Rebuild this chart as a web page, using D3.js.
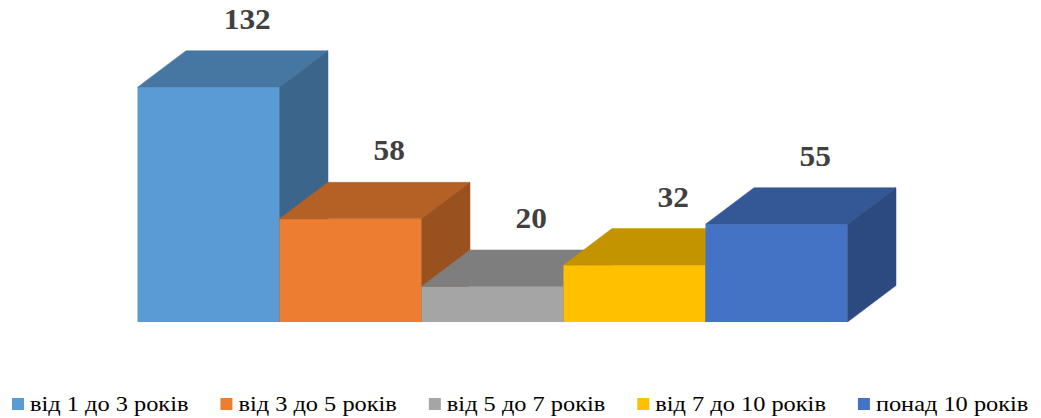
<!DOCTYPE html>
<html>
<head>
<meta charset="utf-8">
<script src="https://cdn.jsdelivr.net/npm/d3@7"></script>
<style>
  body { margin: 0; background: #fff; }
  svg { display: block; }
  .value-label { font-family: "Liberation Serif", "Times New Roman", serif; font-weight: bold; font-size: 29px; fill: #404040; }
  .legend-text { font-family: "Liberation Serif", "Times New Roman", serif; font-size: 21px; fill: #000; }
</style>
</head>
<body>
<svg width="1041" height="418"></svg>
<script>
// chart data
var categories = ['від 1 до 3 років', 'від 3 до 5 років', 'від 5 до 7 років', 'від 7 до 10 років', 'понад 10 років'];
var values = [132, 58, 20, 32, 55];

var colors = ['#5B9BD5', '#ED7D31', '#A5A5A5', '#FFC000', '#4472C4'];

var svg = d3.select('svg');

var baseY = 322;
var depth = {x: 48.5, y: -36.5};
var stretch = 1.16; // reference text is a little wider than Liberation Serif

var xScale = d3.scaleBand()
    .domain(categories)
    .range([137.5, 847.5])
    .padding(0);

var yScale = d3.scaleLinear()
    .domain([0, 140])
    .range([baseY, 73]);

function shade(c, k) {
    var r = d3.rgb(c);
    return d3.rgb(r.r * k, r.g * k, r.b * k).formatHex();
}

var bars = svg.append('g')
    .selectAll('g.bar')
    .data(categories)
    .enter()
    .append('g')
    .attr('class', 'bar');

// front face
bars.append('rect')
    .attr('x', function(d) { return xScale(d); })
    .attr('y', function(d, i) { return yScale(values[i]); })
    .attr('width', xScale.bandwidth())
    .attr('height', function(d, i) { return baseY - yScale(values[i]); })
    .attr('fill', function(d, i) { return colors[i]; });

// top face
bars.append('path')
    .attr('d', function(d, i) {
        var x0 = xScale(d), x1 = x0 + xScale.bandwidth(), y = yScale(values[i]);
        return 'M' + x0 + ',' + y + 'L' + (x0 + depth.x) + ',' + (y + depth.y) +
            'L' + (x1 + depth.x) + ',' + (y + depth.y) + 'L' + x1 + ',' + y + 'Z';
    })
    .attr('fill', function(d, i) { return shade(colors[i], 0.765); })
    .attr('stroke', function(d, i) { return shade(colors[i], 0.765); })
    .attr('stroke-width', 0.5);

// side face
bars.append('path')
    .attr('d', function(d, i) {
        var x1 = xScale(d) + xScale.bandwidth(), y = yScale(values[i]);
        return 'M' + x1 + ',' + y + 'L' + (x1 + depth.x) + ',' + (y + depth.y) +
            'L' + (x1 + depth.x) + ',' + (baseY + depth.y) + 'L' + x1 + ',' + baseY + 'Z';
    })
    .attr('fill', function(d, i) { return shade(colors[i], 0.65); })
    .attr('stroke', function(d, i) { return shade(colors[i], 0.65); })
    .attr('stroke-width', 0.5);

// value labels
var labels = svg.append('g')
    .selectAll('text')
    .data(categories)
    .enter()
    .append('text')
    .attr('class', 'value-label')
    .attr('text-anchor', 'middle')
    .attr('x', function(d) { return xScale(d) + xScale.bandwidth() / 2 + depth.x * 0.8; })
    .attr('y', function(d, i) { return yScale(values[i]) + depth.y - 22; })
    .text(function(d, i) { return values[i]; });

labels.each(function() {
    d3.select(this)
        .attr('textLength', this.getComputedTextLength() * 1.08)
        .attr('lengthAdjust', 'spacingAndGlyphs');
});

// legend
var legend = svg.append('g').attr('class', 'legend');
var lx = 12;
categories.forEach(function(c, i) {
    legend.append('rect')
        .attr('x', lx)
        .attr('y', 398)
        .attr('width', 12)
        .attr('height', 12)
        .attr('fill', colors[i]);
    var t = legend.append('text')
        .attr('class', 'legend-text')
        .attr('x', lx + 18)
        .attr('y', 411)
        .text(c);
    var w = t.node().getComputedTextLength() * stretch;
    t.attr('textLength', w).attr('lengthAdjust', 'spacingAndGlyphs');
    lx += 18 + w + 32;
});
</script>
</body>
</html>
